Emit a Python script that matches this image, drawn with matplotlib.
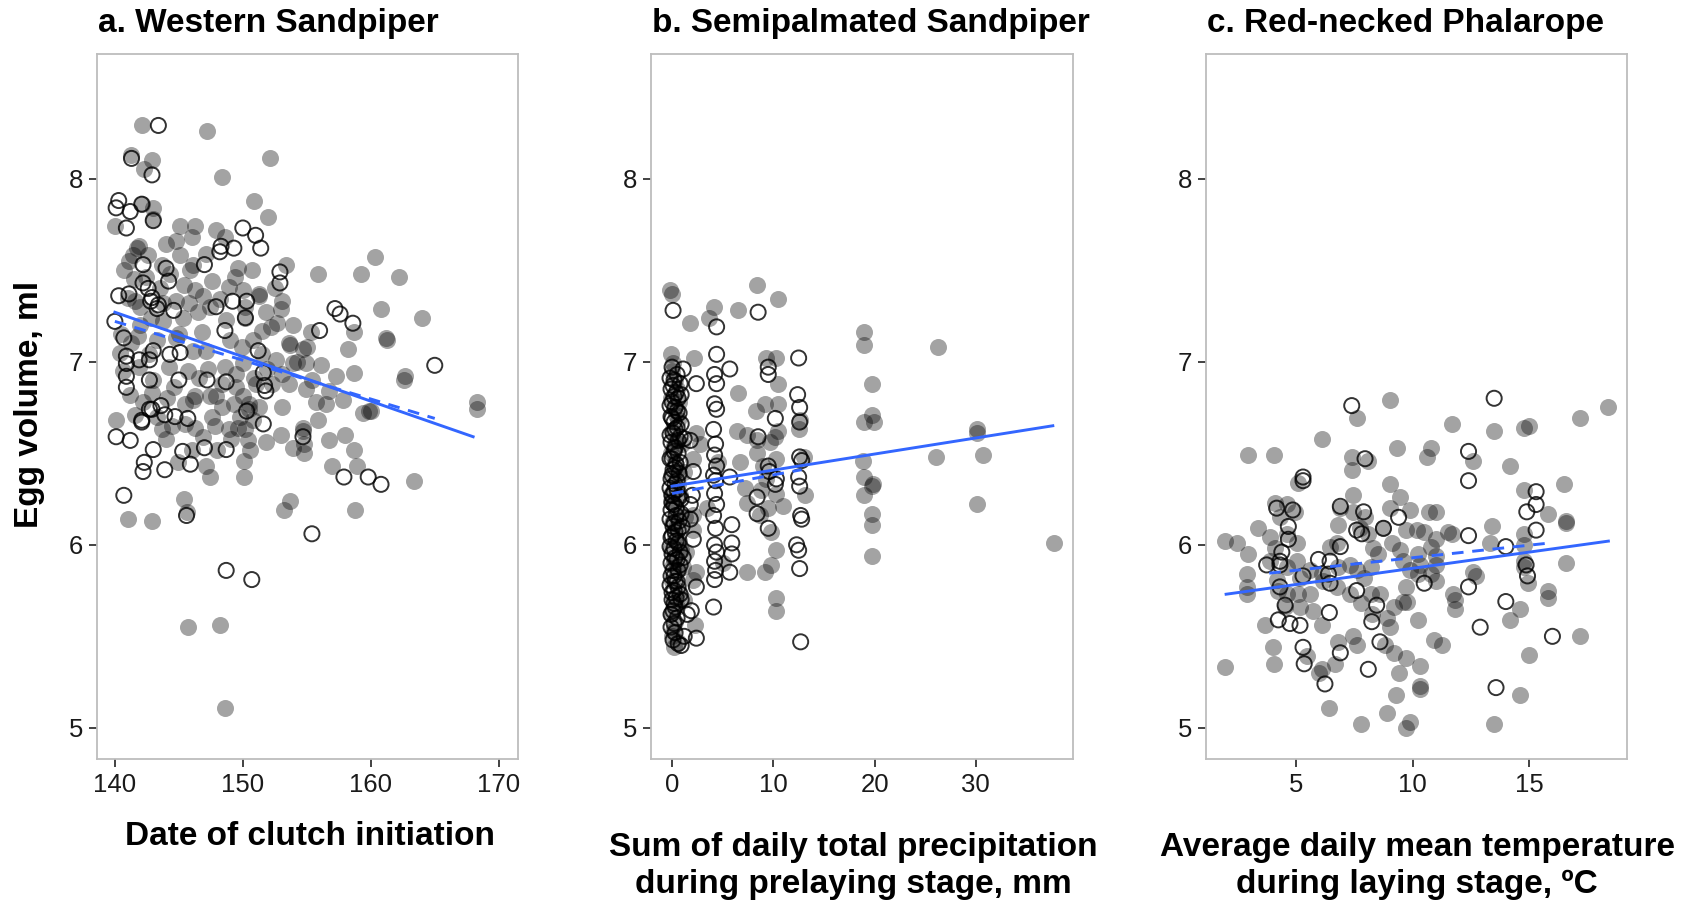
import matplotlib
matplotlib.use('Agg')
import matplotlib.pyplot as plt

plt.rcParams['font.family'] = ['Liberation Sans', 'DejaVu Sans']

# ---- panel a: Western Sandpiper (x = date of clutch initiation) ----
grey_a = [
    (142.1, 8.29), (147.2, 8.26), (141.3, 8.13), (142.9, 8.10), (142.3, 8.05), (152.1, 8.11),
    (148.4, 8.01), (142.1, 7.86), (143.0, 7.84), (143.0, 7.78), (140.0, 7.74), (145.1, 7.74),
    (146.3, 7.74), (146.0, 7.68), (147.9, 7.72), (150.9, 7.88), (152.0, 7.79), (148.6, 7.68),
    (144.0, 7.64), (144.8, 7.66), (140.7, 7.50), (141.7, 7.62), (141.4, 7.58), (145.1, 7.58),
    (145.9, 7.50), (149.6, 7.51), (153.4, 7.53), (155.9, 7.48), (159.2, 7.48), (160.3, 7.57),
    (162.2, 7.46), (160.8, 7.29), (164.0, 7.24), (161.2, 7.13), (158.7, 7.16), (158.2, 7.07),
    (162.7, 6.92), (158.7, 6.94), (157.3, 6.92), (168.3, 6.78), (168.3, 6.74), (160.0, 6.73),
    (159.4, 6.72), (157.8, 6.79), (153.7, 7.09), (155.0, 7.08), (154.2, 7.00), (153.0, 7.29),
    (152.2, 7.19), (151.3, 7.36), (150.2, 7.24), (140.1, 6.68),
    (141.9, 7.63), (141.1, 7.55), (143.7, 7.53), (142.4, 7.46), (146.1, 7.53), (147.1, 7.59),
    (148.9, 7.41), (150.0, 7.39), (146.3, 7.39), (145.8, 7.32), (144.8, 7.33), (141.6, 7.33),
    (147.4, 7.30), (151.3, 7.37), (153.1, 7.33), (151.8, 7.27), (148.7, 7.23), (151.5, 7.17),
    (152.7, 7.21), (153.6, 7.10), (154.7, 7.07), (154.9, 6.99), (153.9, 6.99), (153.1, 6.93),
    (155.4, 6.90), (156.7, 6.84), (151.5, 7.04), (150.0, 6.99), (149.5, 6.93), (148.4, 6.88),
    (147.9, 6.81), (150.5, 6.77), (146.3, 6.81), (145.5, 6.77), (142.7, 7.04), (141.9, 6.97),
    (144.2, 6.97), (144.8, 7.13), (146.1, 7.06), (147.1, 7.06), (150.2, 7.30), (145.3, 7.24),
    (140.5, 7.15), (141.3, 7.10), (142.0, 7.20), (143.3, 7.12), (141.0, 7.35), (143.5, 7.40),
    (141.6, 6.71), (142.9, 6.83), (143.7, 6.63), (144.5, 6.65), (145.5, 6.66), (146.1, 6.79),
    (147.4, 6.81), (147.6, 6.70), (148.4, 6.75), (148.9, 6.63), (146.9, 6.59), (147.1, 6.43),
    (147.4, 6.37), (150.1, 6.37), (150.1, 6.46), (149.5, 6.86), (150.0, 6.81), (150.5, 6.74),
    (150.8, 6.68), (150.2, 6.63), (151.3, 6.75), (152.6, 7.01), (153.1, 6.75), (153.6, 6.88),
    (154.9, 6.85), (155.7, 6.78), (156.5, 6.77), (161.3, 7.12), (159.9, 6.73), (154.7, 6.64),
    (154.8, 6.50), (153.9, 6.53), (156.7, 6.57), (158.0, 6.60), (158.7, 6.52), (157.0, 6.43),
    (158.9, 6.43), (163.4, 6.35), (153.2, 6.19), (153.7, 6.24), (158.8, 6.19), (141.0, 6.14),
    (142.9, 6.13), (145.4, 6.25), (145.6, 6.18), (148.2, 5.56), (145.7, 5.55), (148.6, 5.11),
    (162.6, 6.90), (154.7, 6.62), (154.8, 6.55), (149.8, 6.70), (149.1, 6.58), (150.6, 6.52),
    (146.3, 6.64), (144.0, 6.58), (143.0, 6.90), (144.6, 6.86), (142.0, 7.30), (146.8, 7.16),
    # extra points in the crowded core
    (141.5, 7.45), (142.6, 7.58), (143.8, 7.22), (144.3, 7.48), (145.0, 7.15), (146.5, 7.27),
    (147.6, 7.44), (148.2, 7.34), (149.0, 7.12), (149.9, 7.08), (150.8, 7.12), (151.9, 6.96),
    (152.3, 6.88), (151.0, 6.88), (149.3, 6.77), (148.6, 6.97), (147.3, 6.96), (146.6, 6.91),
    (145.7, 6.95), (144.1, 6.80), (143.3, 6.70), (142.2, 6.78), (141.2, 6.82), (140.6, 6.95),
    (140.4, 7.05), (141.8, 7.14), (142.8, 7.24), (143.8, 7.32), (145.4, 7.42), (146.9, 7.36),
    (149.4, 7.46), (150.7, 7.50), (152.5, 7.40), (153.9, 7.20), (155.3, 7.16), (156.1, 6.98),
    (155.9, 6.68), (153.0, 6.60), (151.8, 6.56), (148.0, 6.52), (146.0, 6.52), (144.9, 6.45),
    (150.9, 6.91), (149.6, 6.64), (150.4, 6.57), (147.8, 6.65),
]
open_a = [
    (143.4, 8.29), (141.3, 8.11), (142.9, 8.02), (140.3, 7.88), (140.1, 7.84), (141.2, 7.82),
    (142.1, 7.86), (143.0, 7.77), (140.9, 7.73), (150.0, 7.73), (151.0, 7.69), (151.4, 7.62),
    (148.3, 7.63), (149.3, 7.62), (148.2, 7.60), (147.0, 7.53), (142.2, 7.53), (144.0, 7.51),
    (152.9, 7.49), (152.9, 7.43), (157.2, 7.29), (157.6, 7.26), (158.6, 7.21), (156.0, 7.17),
    (165.0, 6.98), (150.2, 7.24), (149.2, 7.33), (150.3, 7.33), (147.9, 7.30), (148.6, 7.17),
    (151.2, 7.06), (151.6, 6.94), (151.8, 6.84), (151.7, 6.87), (150.3, 6.73), (147.2, 6.90),
    (148.7, 6.89), (145.0, 6.90), (142.7, 6.90), (140.9, 6.92), (140.9, 6.86), (140.3, 7.36),
    (140.0, 7.22), (140.7, 7.13), (140.9, 7.03), (140.9, 6.99), (142.2, 7.43), (142.6, 7.40),
    (144.2, 7.44), (144.6, 7.28), (145.1, 7.05), (144.3, 7.04), (143.0, 7.06), (142.7, 7.01),
    (141.9, 7.01), (143.6, 6.76), (142.7, 6.74), (143.9, 6.71), (142.1, 6.68), (145.7, 6.69),
    (143.3, 7.29), (142.9, 7.35), (141.1, 7.37), (142.8, 7.33), (143.4, 7.31),
    (140.1, 6.59), (141.2, 6.57), (142.1, 6.67), (142.9, 6.74), (144.7, 6.70), (143.0, 6.52),
    (142.3, 6.45), (142.2, 6.40), (143.9, 6.41), (145.3, 6.51), (145.9, 6.44), (147.0, 6.53),
    (148.7, 6.52), (151.6, 6.66), (154.7, 6.59), (157.9, 6.37), (159.8, 6.37), (160.8, 6.33),
    (155.4, 6.06), (145.6, 6.16), (140.7, 6.27), (148.7, 5.86), (150.7, 5.81),
]
fit_a_x = [140.0, 168.0]
fit_a_y = [7.27, 6.59]
dash_a_x = [140.0, 165.0]
dash_a_y = [7.22, 6.69]

# ---- panel b: Semipalmated Sandpiper (x = precipitation, mm) ----
grey_b = [
    (-0.2, 7.39), (0.0, 7.37), (8.4, 7.42), (10.5, 7.34), (1.8, 7.21), (4.1, 7.30), (3.6, 7.24),
    (6.5, 7.28), (-0.1, 7.04), (2.2, 7.02), (6.5, 6.83), (10.3, 7.02), (9.3, 7.02), (10.5, 6.88),
    (8.3, 6.73), (9.2, 6.77), (10.5, 6.77), (6.4, 6.62), (7.4, 6.60), (2.4, 6.61), (2.8, 6.55),
    (8.4, 6.57), (9.7, 6.56), (10.2, 6.59), (10.5, 6.62), (6.7, 6.45), (2.1, 6.47), (8.4, 6.50),
    (9.0, 6.43), (10.3, 6.47), (12.6, 6.68), (12.5, 6.63), (13.0, 6.48), (13.1, 6.27), (7.2, 6.31),
    (7.4, 6.23), (9.3, 6.36), (10.3, 6.28), (11.0, 6.21), (8.7, 6.16), (9.8, 6.07), (10.3, 5.97),
    (9.8, 5.89), (9.2, 5.85), (7.4, 5.85), (10.3, 5.71), (10.3, 5.64), (2.4, 5.85), (2.1, 5.81),
    (2.1, 6.16), (2.1, 6.08), (1.4, 5.96), (2.3, 5.56), (19.0, 7.16), (19.0, 7.09), (26.3, 7.08),
    (19.7, 6.88), (19.7, 6.71), (19.0, 6.67), (19.9, 6.67), (30.1, 6.63), (30.1, 6.61),
    (26.1, 6.48), (30.7, 6.49), (18.9, 6.46), (19.0, 6.37), (19.7, 6.32), (19.8, 6.33),
    (19.0, 6.27), (30.1, 6.22), (19.7, 6.17), (19.7, 6.11), (19.7, 5.94), (37.7, 6.01),
    (0.0, 6.95), (0.3, 6.90), (0.5, 6.85), (-0.1, 6.80), (0.2, 6.74), (0.6, 6.68), (0.0, 6.62),
    (0.4, 6.57), (-0.1, 6.50), (0.3, 6.45), (0.1, 6.38), (0.6, 6.33), (-0.1, 6.28), (0.2, 6.22),
    (0.5, 6.16), (0.0, 6.12), (0.3, 6.05), (0.7, 6.02), (-0.1, 5.98), (0.2, 5.92), (0.4, 5.86),
    (0.0, 5.80), (0.6, 5.75), (0.2, 5.70), (-0.1, 5.62), (0.3, 5.58), (0.0, 5.50), (0.2, 5.44),
    (0.6, 5.47), (1.0, 6.55), (1.2, 6.40), (1.3, 6.15), (1.1, 5.88), (1.2, 5.70), (4.5, 6.45),
    (3.5, 6.20), (5.0, 5.90), (8.8, 6.30), (9.5, 6.20),
    (0.1, 6.99), (0.4, 6.71), (0.2, 6.54), (0.5, 6.41), (-0.1, 6.24), (0.4, 6.09), (0.1, 5.89),
    (0.5, 5.66), (0.1, 5.53), (0.8, 6.27), (0.9, 5.97), (0.7, 6.78),
]
open_b = [
    (0.1, 7.28), (0.0, 6.97), (1.1, 6.96), (0.2, 6.90), (0.8, 6.88), (-0.1, 6.85), (0.4, 6.83),
    (0.6, 6.80), (0.0, 6.78), (0.3, 6.75), (0.7, 6.72), (-0.1, 6.70), (0.2, 6.67), (0.5, 6.64),
    (0.1, 6.61), (0.8, 6.59), (-0.1, 6.56), (0.3, 6.53), (0.6, 6.50), (0.0, 6.47), (0.4, 6.44),
    (0.1, 6.41), (0.7, 6.39), (-0.1, 6.36), (0.3, 6.33), (0.5, 6.30), (0.0, 6.27), (0.9, 6.25),
    (0.2, 6.22), (-0.1, 6.19), (0.4, 6.16), (0.7, 6.13), (0.1, 6.10), (0.3, 6.07), (-0.1, 6.04),
    (0.6, 6.01), (0.2, 5.98), (0.0, 5.95), (0.5, 5.92), (0.8, 5.89), (0.1, 5.86), (-0.1, 5.83),
    (0.3, 5.80), (0.6, 5.77), (0.0, 5.74), (0.4, 5.71), (0.2, 5.68), (0.9, 5.70), (0.1, 5.64),
    (-0.1, 5.55), (0.3, 5.52), (0.1, 5.48), (0.6, 5.46), (0.9, 5.45), (1.5, 5.62), (1.2, 6.58),
    (1.0, 6.10), (1.1, 5.93),
    # second pass through the crowded x = 0 column
    (0.5, 6.93), (-0.2, 6.91), (0.1, 6.87), (0.9, 6.82), (0.2, 6.81), (-0.2, 6.76), (0.5, 6.73),
    (0.0, 6.69), (0.9, 6.66), (0.3, 6.63), (-0.2, 6.60), (0.6, 6.57), (0.2, 6.51), (-0.2, 6.47),
    (0.8, 6.45), (0.3, 6.42), (0.0, 6.38), (0.5, 6.35), (-0.2, 6.31), (0.2, 6.29), (0.7, 6.26),
    (0.0, 6.23), (0.4, 6.20), (0.9, 6.17), (-0.2, 6.14), (0.2, 6.12), (0.6, 6.08), (0.0, 6.05),
    (0.4, 6.02), (-0.2, 5.99), (0.8, 5.96), (0.3, 5.93), (-0.1, 5.90), (0.6, 5.86), (0.2, 5.83),
    (0.5, 5.80), (-0.2, 5.78), (0.2, 5.75), (0.8, 5.73), (0.0, 5.70), (0.3, 5.66), (-0.1, 5.62),
    (0.5, 5.60), (0.2, 5.57), (1.2, 5.50),
    (2.4, 6.88), (1.8, 6.57), (2.1, 6.40), (2.0, 6.27), (1.8, 6.22), (1.9, 5.64), (2.4, 5.49),
    (2.4, 5.77), (2.1, 6.03), (1.8, 6.14),
    (4.4, 7.19), (4.4, 7.04), (4.2, 6.93), (4.4, 6.88), (4.2, 6.77), (4.4, 6.74), (4.1, 6.63),
    (4.3, 6.55), (4.2, 6.49), (4.4, 6.43), (4.1, 6.38), (4.3, 6.35), (4.2, 6.28), (4.4, 6.22),
    (4.1, 6.16), (4.3, 6.09), (4.2, 6.00), (4.4, 5.96), (4.2, 5.91), (4.3, 5.86), (4.2, 5.81),
    (4.1, 5.66),
    (5.7, 6.96), (5.7, 6.37), (5.9, 6.11), (5.9, 6.01), (5.9, 5.95), (5.7, 5.85),
    (8.5, 7.27), (9.5, 6.97), (9.5, 6.93), (10.2, 6.69), (8.5, 6.59), (9.5, 6.43), (10.3, 6.36),
    (10.2, 6.33), (8.4, 6.26), (8.4, 6.17), (9.5, 6.09), (9.6, 6.40),
    (12.5, 7.02), (12.4, 6.82), (12.6, 6.75), (12.6, 6.67), (12.6, 6.48), (12.8, 6.46),
    (12.5, 6.37), (12.6, 6.32), (12.7, 6.16), (12.8, 6.14), (12.3, 6.00), (12.5, 5.97),
    (12.6, 5.87), (12.7, 5.47),
]
fit_b_x = [0.0, 37.6]
fit_b_y = [6.32, 6.65]
dash_b_x = [0.0, 12.8]
dash_b_y = [6.28, 6.41]

# ---- panel c: Red-necked Phalarope (x = temperature) ----
grey_c = [
    (1.95, 6.02), (2.45, 6.01), (2.95, 6.49), (4.06, 6.49), (2.95, 5.95), (2.88, 5.84),
    (2.88, 5.77), (2.90, 5.73), (1.95, 5.33), (3.67, 5.56), (4.03, 5.44), (4.06, 5.35),
    (3.38, 6.09), (3.88, 6.04), (4.10, 6.23), (4.31, 6.15), (4.60, 6.22), (4.96, 6.18),
    (4.60, 6.06), (5.03, 6.01), (5.10, 6.34), (6.10, 6.58), (6.82, 6.11), (7.39, 6.48),
    (7.39, 6.41), (7.60, 6.69), (7.43, 6.27), (9.03, 6.79), (9.32, 6.53), (9.03, 6.33),
    (9.46, 6.26), (9.03, 6.20), (9.89, 6.19), (10.6, 6.48), (10.8, 6.53), (10.7, 6.18),
    (11.0, 6.18), (10.2, 6.08), (10.5, 6.07), (11.7, 6.66), (12.6, 6.46), (13.5, 6.62),
    (14.2, 6.43), (14.8, 6.64), (15.0, 6.65), (14.8, 6.30), (15.8, 6.17), (16.5, 6.33),
    (16.6, 6.13), (16.6, 6.12), (17.2, 6.69), (18.4, 6.75), (13.4, 6.10), (13.3, 6.01),
    (14.8, 6.06), (14.76, 6.00), (14.8, 5.91), (14.76, 5.88), (14.97, 5.79), (15.8, 5.75),
    (15.8, 5.71), (16.6, 5.90), (15.0, 5.40), (17.2, 5.50), (14.6, 5.65), (14.2, 5.59),
    (14.6, 5.18), (13.5, 5.02), (11.75, 5.73), (11.8, 5.65), (11.8, 5.70), (12.6, 5.85),
    (12.7, 5.83), (11.7, 6.06), (11.5, 6.07), (11.0, 6.03), (10.8, 5.99), (11.0, 5.94),
    (11.0, 5.89), (10.8, 5.84), (11.0, 5.80), (10.25, 5.95), (10.3, 5.89), (10.25, 5.84),
    (9.7, 5.77), (9.6, 5.69), (9.75, 5.69), (10.25, 5.59), (10.9, 5.48), (11.25, 5.45),
    (10.3, 5.34), (10.3, 5.23), (10.3, 5.21), (9.7, 5.38), (9.4, 5.30), (9.3, 5.18), (8.9, 5.08),
    (9.7, 5.00), (9.9, 5.03), (7.78, 5.02), (6.4, 5.11), (6.67, 5.35), (6.1, 5.32), (6.0, 5.30),
    (5.46, 5.39), (5.74, 5.64), (6.1, 5.56), (5.17, 5.66), (5.10, 5.73), (5.60, 5.73),
    (4.60, 5.73), (4.53, 5.66), (6.82, 5.47), (7.46, 5.50), (7.60, 5.45), (7.30, 5.73),
    (7.80, 5.68), (8.9, 5.60), (9.2, 5.66), (9.03, 5.55), (8.83, 5.45), (9.2, 5.41), (8.25, 5.62),
    (8.6, 5.73), (8.2, 5.73), (7.9, 5.82), (8.2, 5.88), (6.17, 5.80), (6.75, 5.77), (6.82, 5.88),
    (7.30, 5.89), (7.60, 5.86), (6.46, 5.99), (6.75, 6.01), (6.90, 6.20), (7.96, 6.15),
    (8.10, 6.06), (8.30, 5.98), (8.50, 5.95), (9.70, 6.08), (8.75, 6.09), (9.10, 6.01),
    (9.46, 5.97), (9.60, 5.91), (9.90, 5.86), (7.46, 6.18), (8.10, 6.46), (7.75, 6.09),
    (6.10, 5.84), (4.17, 5.81), (4.24, 5.75), (3.88, 5.91), (4.10, 5.98), (5.03, 5.91),
    (5.60, 5.86), (5.17, 5.82), (4.60, 5.88),
]
open_c = [
    (7.39, 6.76), (13.5, 6.80), (7.96, 6.47), (12.4, 6.51), (12.4, 6.35), (5.30, 6.37),
    (5.30, 6.35), (4.17, 6.20), (4.86, 6.19), (4.67, 6.10), (4.67, 6.03), (4.39, 5.96),
    (3.74, 5.89), (4.31, 5.91), (4.31, 5.89), (6.90, 6.21), (7.90, 6.18), (9.40, 6.15),
    (7.60, 6.08), (7.82, 6.06), (8.75, 6.09), (6.90, 5.99), (5.96, 5.92), (6.46, 5.91),
    (5.30, 5.83), (6.39, 5.84), (6.46, 5.79), (4.31, 5.77), (7.60, 5.75), (12.4, 6.05),
    (14.0, 5.99), (14.9, 6.18), (15.3, 6.29), (15.3, 6.22), (15.3, 6.08), (14.87, 5.89),
    (14.93, 5.83), (10.5, 5.79), (12.4, 5.77), (14.0, 5.69), (12.9, 5.55), (16.0, 5.50),
    (4.53, 5.67), (4.24, 5.59), (4.74, 5.57), (5.17, 5.56), (6.43, 5.63), (8.46, 5.67),
    (8.25, 5.58), (8.60, 5.47), (6.90, 5.41), (5.30, 5.44), (5.35, 5.35), (8.10, 5.32),
    (6.24, 5.24), (13.58, 5.22),
]
fit_c_x = [2.0, 18.4]
fit_c_y = [5.73, 6.02]
dash_c_x = [3.85, 15.9]
dash_c_y = [5.845, 6.01]

titles = ['a. Western Sandpiper', 'b. Semipalmated Sandpiper', 'c. Red-necked Phalarope']
xlabels = ['Date of clutch initiation',
           'Sum of daily total precipitation\nduring prelaying stage, mm',
           'Average daily mean temperature\nduring laying stage, \u00baC']
xticks = [[140, 150, 160, 170], [0, 10, 20, 30], [5, 10, 15]]
xlims = [(138.6, 171.5), (-2.07, 39.6), (1.14, 19.2)]
yticks = [5, 6, 7, 8]

fig = plt.figure(figsize=(16.92, 9.05), dpi=100)
lefts = [0.0573, 0.3848, 0.7128]
widths = [0.2488, 0.2494, 0.2488]

panels = [
    (grey_a, open_a, fit_a_x, fit_a_y, dash_a_x, dash_a_y),
    (grey_b, open_b, fit_b_x, fit_b_y, dash_b_x, dash_b_y),
    (grey_c, open_c, fit_c_x, fit_c_y, dash_c_x, dash_c_y),
]
blue = '#3366FF'

for i, (grey, opn, fx, fy, dx, dy) in enumerate(panels):
    ax = fig.add_axes([lefts[i], 0.1613, widths[i], 0.7790])
    gx = [p[0] for p in grey]
    gy = [p[1] for p in grey]
    ox = [p[0] for p in opn]
    oy = [p[1] for p in opn]
    ax.scatter(gx, gy, s=150, color='black', alpha=0.36, linewidths=0, zorder=2)
    ax.scatter(ox, oy, s=118, facecolors='none', edgecolors='black', alpha=0.8,
               linewidths=1.4, zorder=3)
    ax.plot(fx, fy, color=blue, lw=2.1, zorder=4)
    ax.plot(dx, dy, color=blue, lw=2.1, ls=(0, (4, 3)), zorder=4)
    ax.set_xlim(xlims[i])
    ax.set_ylim(4.83, 8.68)
    ax.set_xticks(xticks[i])
    ax.set_yticks(yticks)
    for s in ax.spines.values():
        s.set_color('#bdbdbd')
        s.set_linewidth(1.3)
    ax.tick_params(direction='out', length=6, width=1.3, color='#333333',
                   labelsize=18.5, labelcolor='#1a1a1a', pad=4)
    fig.text(lefts[i] + 0.0005, 0.974, titles[i], fontsize=24, fontweight='bold',
             ha='left', va='center')

fig.text(0.1832, 0.0762, xlabels[0], fontsize=24, fontweight='bold', ha='center', va='center')
fig.text(0.5044, 0.0431, xlabels[1], fontsize=24, fontweight='bold', ha='center', va='center',
         linespacing=1.25)
fig.text(0.8375, 0.0431, xlabels[2], fontsize=24, fontweight='bold', ha='center', va='center',
         linespacing=1.25)
fig.text(0.0177, 0.553, 'Egg volume, ml', fontsize=24, fontweight='bold', rotation=90,
         ha='center', va='center')

fig.savefig('out.png', dpi=100)
